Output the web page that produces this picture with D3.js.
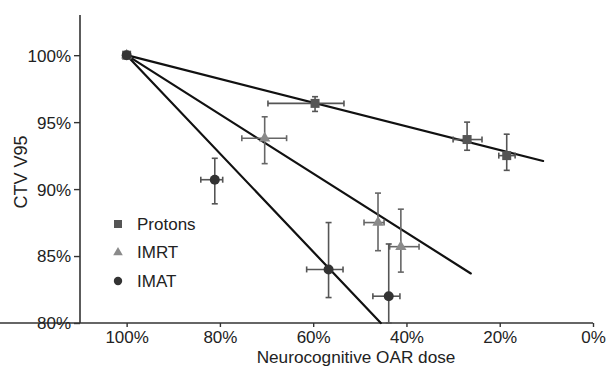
<!DOCTYPE html>
<html><head><meta charset="utf-8">
<script src="https://cdn.jsdelivr.net/npm/d3@7"></script>
<style>body{margin:0;background:#fff}svg{display:block}text{font-family:"Liberation Sans",Arial,sans-serif}</style>
</head><body>
<svg id="c" width="610" height="367"></svg>
<script>
// x = neurocognitive OAR dose (%), y = CTV V95 (%)
const protonsX   = [100, 59.6, 27.0, 18.5];
const protonsY   = [100, 96.4, 93.7, 92.5];
const protonsXLo = [100, 53.4, 23.8, 16.7];
const protonsXHi = [100, 69.7, 30.0, 20.2];
const protonsYLo = [100, 95.8, 92.9, 91.4];
const protonsYHi = [100, 96.9, 95.0, 94.1];

const imrtX   = [100, 70.4, 46.1, 41.2];
const imrtY   = [100, 93.8, 87.5, 85.7];
const imrtXLo = [100, 65.7, 44.8, 37.3];
const imrtXHi = [100, 75.3, 49.1, 43.6];
const imrtYLo = [100, 91.9, 85.4, 83.8];
const imrtYHi = [100, 95.4, 89.7, 88.5];

const imatX   = [100, 81.1, 56.7, 43.8];
const imatY   = [100, 90.7, 84.0, 82.0];
const imatXLo = [100, 79.4, 53.6, 41.4];
const imatXHi = [100, 84.1, 61.4, 47.2];
const imatYLo = [100, 88.9, 81.9, 80.0];
const imatYHi = [100, 92.3, 87.5, 85.9];

// fitted trend lines: [x0, y0, x1, y1]
const protonsFit = [100, 100, 10.7, 92.1];
const imrtFit    = [100, 100, 26.2, 83.7];
const imatFit    = [100, 100, 45.5, 80.0];

const xTicks = [100, 80, 60, 40, 20, 0];
const yTicks = [80, 85, 90, 95, 100];
const legendLabels = ["Protons", "IMRT", "IMAT"];

const svg = d3.select("#c");
const x = d3.scaleLinear().domain([110, 0]).range([80, 593]);
const y = d3.scaleLinear().domain([80, 103]).range([323, 15]);
const axisColor = "#333";
const fs = 17;

// axes
const xa = svg.append("g").attr("transform", "translate(0,323)")
  .call(d3.axisBottom(x).tickValues(xTicks).tickSize(4).tickPadding(4).tickFormat(d => d + "%"));
const ya = svg.append("g").attr("transform", "translate(80,0)")
  .call(d3.axisLeft(y).tickValues(yTicks).tickSize(6).tickPadding(3).tickFormat(d => d + "%"));
[xa, ya].forEach(g => {
  g.select(".domain").attr("stroke", axisColor).attr("stroke-width", 1.6);
  g.selectAll(".tick line").attr("stroke", axisColor).attr("stroke-width", 1.4);
  g.selectAll(".tick text").attr("fill", "#222").attr("font-size", fs)
   .attr("font-family", '"Liberation Sans",Arial,sans-serif');
});
ya.select(".domain").attr("d", "M0," + 15 + "V323");
xa.select(".domain").attr("d", "M0,0H593");
ya.selectAll(".tick text").attr("dy", "0.35em");

svg.append("text").attr("x", 356).attr("y", 363).attr("text-anchor", "middle")
  .attr("font-size", 17.2).attr("fill", "#222").text("Neurocognitive OAR dose");
svg.append("text").attr("transform", "translate(27,172) rotate(-90)").attr("text-anchor", "middle")
  .attr("font-size", 18).attr("fill", "#222").text("CTV V95");

// trend lines
[protonsFit, imrtFit, imatFit].forEach(f => {
  svg.append("line").attr("x1", x(f[0])).attr("y1", y(f[1])).attr("x2", x(f[2])).attr("y2", y(f[3]))
    .attr("stroke", "#111").attr("stroke-width", 2.2).attr("stroke-linecap", "round");
});

const series = [
  {X: protonsX, Y: protonsY, xl: protonsXLo, xh: protonsXHi, yl: protonsYLo, yh: protonsYHi, color: "#555", bar: "#555", shape: "square"},
  {X: imrtX, Y: imrtY, xl: imrtXLo, xh: imrtXHi, yl: imrtYLo, yh: imrtYHi, color: "#8a8a8a", bar: "#666", shape: "triangle"},
  {X: imatX, Y: imatY, xl: imatXLo, xh: imatXHi, yl: imatYLo, yh: imatYHi, color: "#333", bar: "#555", shape: "circle"}
];
const cap = 3;
series.forEach(s => {
  const g = svg.append("g");
  s.X.forEach((xv, i) => {
    if (i === 0) return;
    const cx = x(xv), cy = y(s.Y[i]);
    const a = {stroke: s.bar, "stroke-width": 1.6};
    const ln = (x1, y1, x2, y2) => { const l = g.append("line").attr("x1", x1).attr("y1", y1).attr("x2", x2).attr("y2", y2); Object.entries(a).forEach(([k, v]) => l.attr(k, v)); };
    ln(x(s.xl[i]), cy, x(s.xh[i]), cy);
    ln(x(s.xl[i]), cy - cap, x(s.xl[i]), cy + cap);
    ln(x(s.xh[i]), cy - cap, x(s.xh[i]), cy + cap);
    ln(cx, y(s.yl[i]), cx, y(s.yh[i]));
    ln(cx - cap, y(s.yl[i]), cx + cap, y(s.yl[i]));
    ln(cx - cap, y(s.yh[i]), cx + cap, y(s.yh[i]));
  });
});
function drawMarker(g, shape, cx, cy, color) {
  if (shape === "square") g.append("rect").attr("x", cx - 4.5).attr("y", cy - 4.5).attr("width", 9).attr("height", 9).attr("fill", color);
  else if (shape === "triangle") g.append("path").attr("d", d3.symbol(d3.symbolTriangle, 55)()).attr("transform", `translate(${cx},${cy})`).attr("fill", color);
  else g.append("circle").attr("cx", cx).attr("cy", cy).attr("r", 5).attr("fill", color);
}
series.forEach(s => {
  const g = svg.append("g");
  s.X.forEach((xv, i) => drawMarker(g, s.shape, x(xv), y(s.Y[i]), s.color));
});

// legend
const lg = svg.append("g");
legendLabels.forEach((t, i) => {
  const ly = 224 + i * 28.5;
  const s = series[i];
  if (s.shape === "square") lg.append("rect").attr("x", 114).attr("y", ly - 4).attr("width", 8).attr("height", 8).attr("fill", s.color);
  else if (s.shape === "triangle") lg.append("path").attr("d", d3.symbol(d3.symbolTriangle, 40)()).attr("transform", `translate(118,${ly})`).attr("fill", s.color);
  else lg.append("circle").attr("cx", 118).attr("cy", ly).attr("r", 4.2).attr("fill", s.color);
  lg.append("text").attr("x", 137).attr("y", ly).attr("dy", "0.35em").attr("font-size", fs).attr("fill", "#222").text(t);
});
</script>
</body></html>
